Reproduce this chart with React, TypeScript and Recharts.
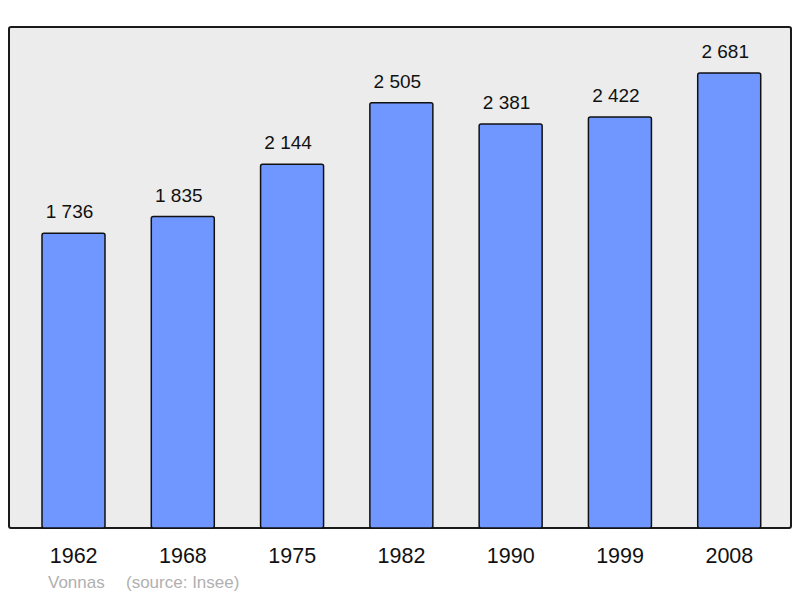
import React from "react";
import { BarChart, Bar, XAxis, YAxis, LabelList } from "recharts";

const years = ["1962", "1968", "1975", "1982", "1990", "1999", "2008"];
const population = [1736, 1835, 2144, 2505, 2381, 2422, 2681];
const commune = "Vonnas";
const source = "(source: Insee)";

const data = years.map((y, i) => ({ year: y, pop: population[i] }));

const fmt = (v: number) => {
  const s = String(v);
  return s.length > 3 ? s.slice(0, s.length - 3) + " " + s.slice(s.length - 3) : s;
};

const FONT = "'Liberation Sans', Arial, sans-serif";

export default function App() {
  return (
    <div
      style={{
        position: "absolute",
        left: 0,
        top: 0,
        width: 800,
        height: 598,
        background: "#fff",
        fontFamily: FONT,
      }}
    >
      <div
        style={{
          position: "absolute",
          left: 8,
          top: 26,
          width: 780,
          height: 499,
          border: "2px solid #1a1a1a",
          borderRadius: 3,
          background: "#ececec",
        }}
      />
      <div style={{ position: "absolute", left: 0, top: 0 }}>
        <BarChart
          width={800}
          height={598}
          data={data}
          margin={{ top: 27, right: 9, bottom: 0, left: 9 }}
          barCategoryGap={0}
        >
          <YAxis hide domain={[0, 2952]} />
          <XAxis
            dataKey="year"
            height={70}
            axisLine={false}
            tickLine={false}
            tickSize={0}
            tickMargin={20}
            padding={{ left: 10, right: 7 }}
            tick={{ fontSize: 21.5, fill: "#111", fontFamily: FONT }}
            interval={0}
          />
          <Bar
            dataKey="pop"
            barSize={63}
            fill="#7096ff"
            stroke="#111"
            strokeWidth={1.5}
            radius={2}
            isAnimationActive={false}
          >
            <LabelList
              dataKey="pop"
              position="top"
              offset={15}
              content={(p: any) => (
                <text
                  x={p.x + p.width / 2 - 4}
                  y={p.y - 15}
                  textAnchor="middle"
                  fontSize={19}
                  fill="#111"
                  fontFamily={FONT}
                >
                  {fmt(Number(p.value))}
                </text>
              )}
            />
          </Bar>
        </BarChart>
      </div>
      <div style={{ position: "absolute", left: 48, top: 573, fontSize: 17, color: "#b0b0b0", whiteSpace: "pre" }}>
        {commune}
      </div>
      <div style={{ position: "absolute", left: 126, top: 573, fontSize: 17, color: "#b0b0b0", whiteSpace: "pre" }}>
        {source}
      </div>
    </div>
  );
}
